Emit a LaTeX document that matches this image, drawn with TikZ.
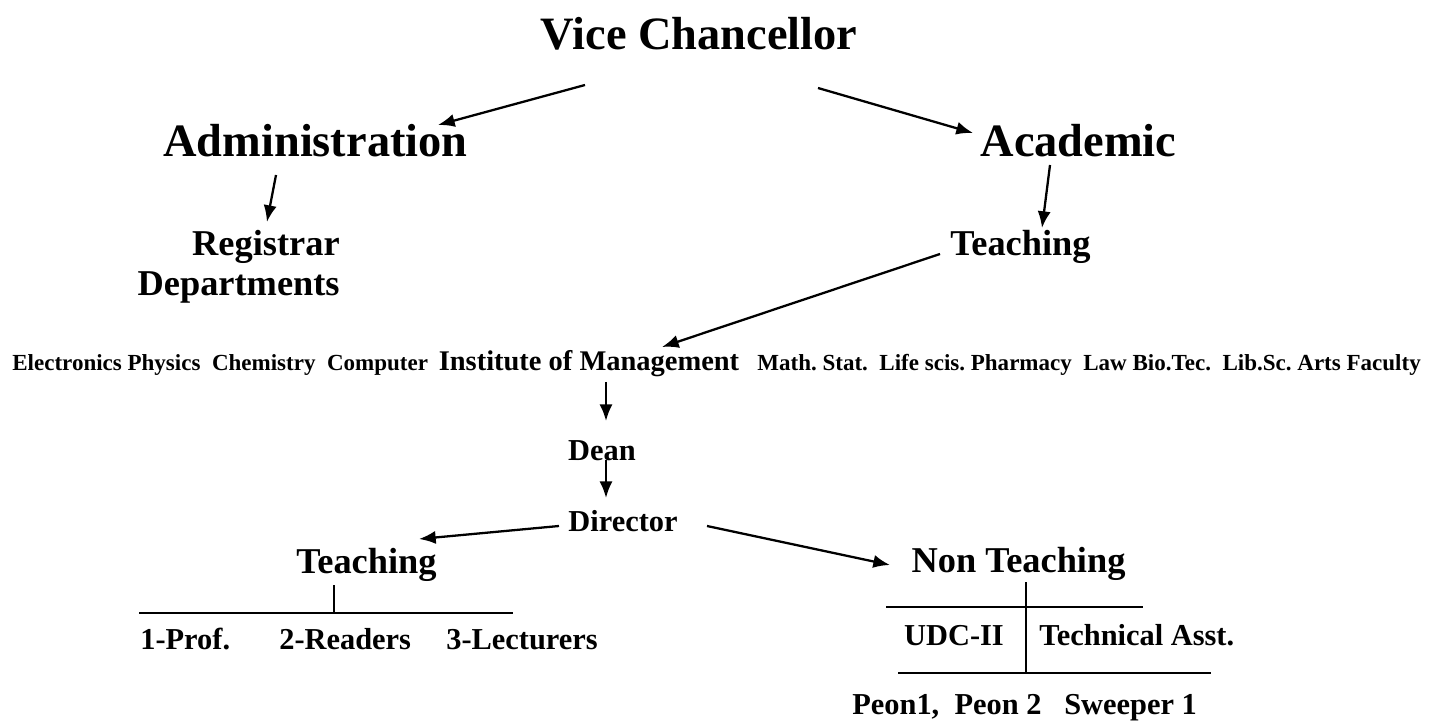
\documentclass[tikz,border=0pt]{standalone}
\usepackage{fontspec}
\setmainfont{Liberation Serif}
\usepackage{tikz}
\usetikzlibrary{calc}
\usetikzlibrary{arrows.meta}
\frenchspacing
\tikzstyle{head} = [font=\fontsize{26.4}{31}\selectfont\bfseries, inner sep=0pt, anchor=base]
\tikzstyle{unit} = [font=\fontsize{20.7}{25}\selectfont\bfseries, inner sep=0pt, anchor=base]
\tikzstyle{post} = [font=\fontsize{17.3}{21}\selectfont\bfseries, inner sep=0pt, anchor=base]
\tikzstyle{institute} = [font=\fontsize{16.2}{19}\selectfont\bfseries, inner sep=0pt, anchor=base]
\tikzstyle{deptrow} = [font=\fontsize{13.1}{16}\selectfont\bfseries, inner sep=0pt, anchor=base west]
\tikzstyle{arrow} = [line width=1.3pt,->,>={Latex[length=9.5pt,width=7.5pt]}]
\tikzstyle{rule} = [line width=0.8pt]

\begin{document}
\begin{tikzpicture}[x=0.02cm, y=-0.02cm]
    \useasboundingbox (0,0) rectangle (1449,722);
        % top levels
        \node (vc) [head] at (699,50) {Vice Chancellor};
        \node (admin) [head] at (315.5,157) {Administration};
        \node (acad) [head] at (1078.5,157) {Academic};
        \node (reg) [unit, anchor=base east] at (340,256) {Registrar};
        \node (depts) [unit, anchor=base east] at (340,296) {Departments};
        \node (teach) [unit] at (1020.5,256) {Teaching};

        % departments row
        \node (sci) [deptrow] at (12,371) {Electronics Physics~ Chemistry~ Computer};
        \node (inst) [institute] at (589,371) {Institute of Management};
        \node (arts) [deptrow] at (757,371) {Math. Stat.~ Life scis. Pharmacy~ Law Bio.Tec.~ Lib.Sc. Arts Faculty};

        \node (dean) [post] at (602,460) {Dean};
        \node (dir) [post] at (623,531) {Director};
        \node (teachstaff) [unit] at (366.5,573) {Teaching};
        \node (nonteach) [unit] at (1018.5,572) {Non Teaching};

        % teaching staff
        \node (prof) [post, anchor=base west] at (140,649) {1-Prof.};
        \node (readers) [post, anchor=base west] at (279,649) {2-Readers};
        \node (lect) [post, anchor=base west] at (446,649) {3-Lecturers};

        % non teaching staff
        \node (udc) [post] at (954,645) {UDC-II};
        \node (tech) [post, anchor=base west] at (1039,645) {Technical Asst.};
        \node (peon) [post, anchor=base west] at (852,714) {Peon1,~ Peon 2~~ Sweeper 1};

        \draw [arrow] ($(vc.base)+(-114,35)$) -- ($(admin.base)+(122.5,-32)$);
        \draw [arrow] ($(vc.base)+(119,38)$) -- ($(acad.base)+(-105.5,-24)$);
        \draw [arrow] ($(admin.base)+(-39.5,18)$) -- ($(reg.base)+(1,-34)$);
        \draw [arrow] ($(acad.base)+(-28.5,8)$) -- ($(teach.base)+(21.5,-28)$);
        \draw [arrow] ($(teach.base)+(-80.5,-2)$) -- ($(inst.base)+(73,-24)$);
        \draw [arrow] ($(inst.base)+(17,11)$) -- ($(dean.base)+(4,-39)$);
        \draw [arrow] ($(dean.base)+(4,0)$) -- ($(dir.base)+(-17,-33)$);
        \draw [arrow] ($(dir.base)+(-64,-5)$) -- ($(teachstaff.base)+(52.5,-34)$);
        \draw [arrow] ($(dir.base)+(84,-5)$) -- ($(nonteach.base)+(-128.5,-7)$);

        % rules
        \draw [rule] (334,585) -- (334,612);
        \draw [rule] (139,613) -- (513,613);
        \draw [rule] (1026,582) -- (1026,673);
        \draw [rule] (886,607) -- (1143,607);
        \draw [rule] (898,673) -- (1211,673);
\end{tikzpicture}
\end{document}
